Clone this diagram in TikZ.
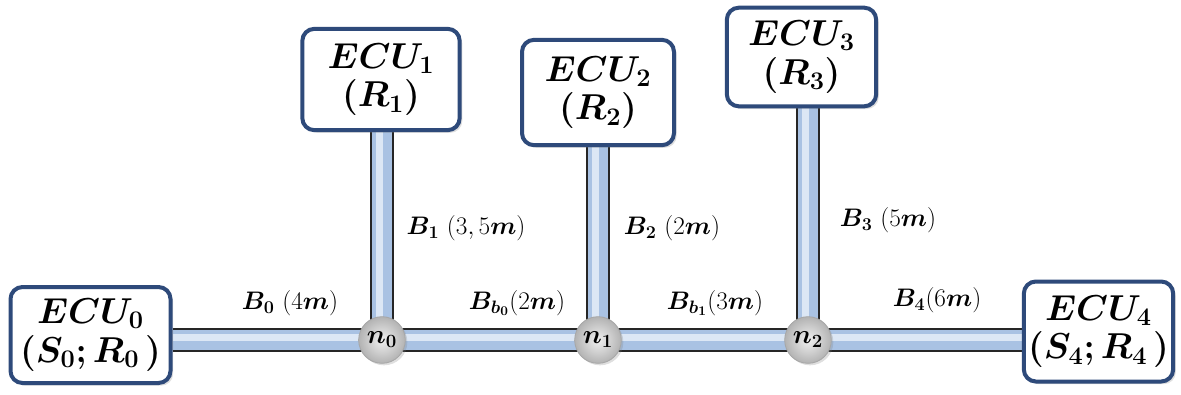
\RequirePackage{fix-cm}
\documentclass[tikz,border=0pt]{standalone}
\usepackage{bm}
\usetikzlibrary{backgrounds,shadows}
\DeclareMathSizes{27}{27}{19}{14}
\DeclareMathSizes{19}{19}{13.5}{10}
\DeclareMathSizes{20}{20}{14}{10}
\definecolor{ecuborder}{HTML}{2E4A7A}
\definecolor{tubeblue}{HTML}{A9C2E3}
\definecolor{tubelight}{HTML}{DCE7F5}
\tikzset{
  ecu/.style={draw=ecuborder, line width=3pt, rounded corners=9pt, fill=white,
    align=center, inner sep=0pt, font=\fontsize{27}{29}\selectfont,
    drop shadow={shadow xshift=2pt, shadow yshift=-2pt, opacity=0.25}},
  junction/.style={circle, minimum size=35pt, inner sep=0pt, shading=radial,
    inner color=gray!12, outer color=gray!60, draw=gray!70, line width=0.6pt,
    font=\fontsize{20}{20}\selectfont,
    drop shadow={shadow xshift=1.5pt, shadow yshift=-1.5pt, opacity=0.25}},
  tubeout/.style={line width=18pt, draw=black!85},
  tubemid/.style={line width=14.5pt, draw=tubeblue},
  tubein/.style={line width=5pt, draw=tubelight},
  lbl/.style={font=\fontsize{19}{21}\selectfont, inner sep=1pt}
}
\begin{document}
\begin{tikzpicture}[x=0.75pt, y=-0.75pt]
\useasboundingbox (0,0) rectangle (1181,394);
% ECU boxes
\node[ecu, minimum width=120pt, minimum height=72pt] (e0) at (90.5,335) {$\boldsymbol{ECU_0}$\\$\boldsymbol{(S_0; R_0\,)}$};
\node[ecu, minimum width=118pt, minimum height=76pt] (e1) at (381,79.5) {$\boldsymbol{ECU_1}$\\$\boldsymbol{(R_1)}$};
\node[ecu, minimum width=114pt, minimum height=79pt] (e2) at (598,92.5) {$\boldsymbol{ECU_2}$\\$\boldsymbol{(R_2)}$};
\node[ecu, minimum width=112pt, minimum height=74pt] (e3) at (801.5,57) {$\boldsymbol{ECU_3}$\\$\boldsymbol{(R_3)}$};
\node[ecu, minimum width=112pt, minimum height=75pt] (e4) at (1098.5,331.5) {$\boldsymbol{ECU_4}$\\$\boldsymbol{(S_4; R_4\,)}$};
% junctions
\node[junction] (n0) at (382,340) {$\boldsymbol{n_0}$};
\node[junction] (n1) at (598,340) {$\boldsymbol{n_1}$};
\node[junction] (n2) at (808,340) {$\boldsymbol{n_2}$};
% tubes
\begin{pgfonlayer}{background}
\foreach \s in {tubeout,tubemid} {
  \draw[\s] (e0.east |- n0.center) -- (n0.center) -- (n1.center) -- (n2.center) -- (e4.west |- n2.center);
  \draw[\s] (n0.center |- e1.south) -- (n0.center);
  \draw[\s] (n1.center |- e2.south) -- (n1.center);
  \draw[\s] (n2.center |- e3.south) -- (n2.center);
}
\draw[tubein] ([yshift=2pt]e0.east |- n0.center) -- ([yshift=2pt]e4.west |- n2.center);
\draw[tubein] ([xshift=-2pt]n0.center |- e1.south) -- ([xshift=-2pt]n0.center);
\draw[tubein] ([xshift=-2pt]n1.center |- e2.south) -- ([xshift=-2pt]n1.center);
\draw[tubein] ([xshift=-2pt]n2.center |- e3.south) -- ([xshift=-2pt]n2.center);
\end{pgfonlayer}
% labels
\node[lbl] (l0) at (290,303) {$\bm{B}_{\bm 0}\ (4\bm{m})$};
\node[lbl] (l1) at (466,228) {$\bm{B}_{\bm 1}\ (3,5\bm{m})$};
\node[lbl] (l2) at (672,228) {$\bm{B}_{\bm 2}\ (2\bm{m})$};
\node[lbl] (l3) at (888,220) {$\bm{B}_{\bm 3}\ (5\bm{m})$};
\node[lbl] (lb0) at (517,303) {$\bm{B}_{\bm{b_0}}(2\bm{m})$};
\node[lbl] (lb1) at (715,303) {$\bm{B}_{\bm{b_1}}(3\bm{m})$};
\node[lbl] (l4) at (937,300) {$\bm{B}_{\bm 4}(6\bm{m})$};
\end{tikzpicture}
\end{document}
